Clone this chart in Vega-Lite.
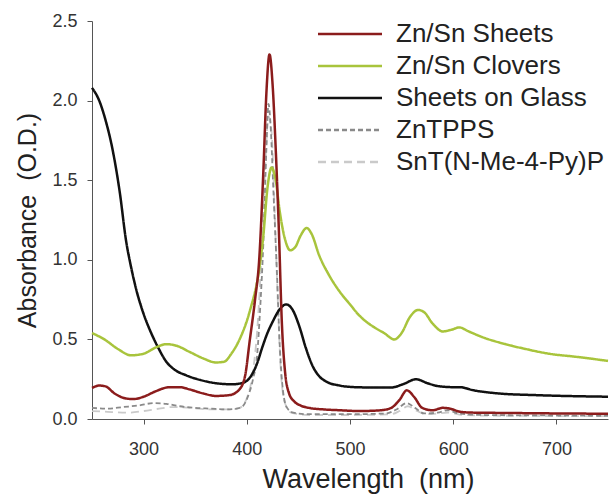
{
  "$schema": "https://vega.github.io/schema/vega-lite/v6.json",
  "width": 516,
  "height": 398,
  "autosize": {"type": "none"},
  "padding": {"left": 92, "top": 21, "right": 6, "bottom": 77},
  "background": "white",
  "config": {"view": {"stroke": null}, "font": "Liberation Sans"},
  "datasets": {
    "S": [[250,0.195],[257,0.21],[263,0.205],[272,0.16],[282,0.13],[290,0.125],[300,0.14],[312,0.175],[325,0.2],[335,0.2],[345,0.185],[358,0.16],[370,0.145],[383,0.15],[392,0.18],[398,0.26],[403,0.5],[408,0.75],[412,1.0],[416,1.55],[419,2.05],[422,2.29],[425,2.1],[428,1.7],[431,1.2],[434,0.6],[437,0.3],[441,0.16],[446,0.11],[452,0.085],[460,0.07],[475,0.06],[490,0.055],[510,0.05],[530,0.055],[540,0.07],[548,0.12],[555,0.18],[562,0.14],[570,0.07],[580,0.055],[590,0.07],[597,0.065],[607,0.045],[620,0.04],[650,0.038],[700,0.035],[750,0.033]],
    "C": [[250,0.54],[262,0.5],[275,0.44],[288,0.4],[300,0.41],[312,0.45],[322,0.47],[332,0.46],[345,0.42],[358,0.38],[370,0.355],[378,0.36],[385,0.41],[393,0.5],[403,0.68],[412,0.94],[416,1.15],[420,1.45],[424,1.58],[428,1.5],[432,1.3],[437,1.13],[442,1.06],[447,1.08],[452,1.15],[458,1.2],[463,1.16],[470,1.03],[480,0.9],[490,0.8],[500,0.72],[509,0.65],[518,0.6],[525,0.57],[533,0.54],[543,0.5],[550,0.54],[558,0.64],[566,0.685],[572,0.67],[580,0.6],[590,0.55],[598,0.56],[606,0.575],[615,0.55],[630,0.51],[645,0.48],[670,0.44],[693,0.41],[720,0.39],[750,0.365]],
    "G": [[250,2.08],[257,2.0],[263,1.88],[270,1.69],[277,1.42],[283,1.12],[288,0.95],[293,0.81],[300,0.66],[306,0.56],[314,0.45],[322,0.36],[330,0.31],[341,0.275],[355,0.245],[370,0.225],[386,0.218],[395,0.225],[403,0.26],[410,0.35],[415,0.45],[420,0.54],[425,0.61],[432,0.69],[438,0.72],[444,0.69],[451,0.58],[457,0.45],[464,0.33],[470,0.27],[477,0.235],[490,0.21],[505,0.2],[520,0.198],[540,0.198],[552,0.22],[564,0.25],[575,0.225],[587,0.205],[600,0.2],[606,0.2],[620,0.18],[645,0.16],[680,0.15],[750,0.14]],
    "T": [[250,0.07],[265,0.065],[280,0.075],[295,0.085],[310,0.1],[322,0.095],[335,0.08],[350,0.07],[365,0.065],[380,0.06],[390,0.065],[396,0.08],[401,0.14],[406,0.25],[410,0.4],[413,0.7],[416,1.1],[419,1.7],[421,1.98],[423,1.85],[426,1.4],[429,0.95],[432,0.45],[435,0.18],[439,0.07],[445,0.04],[460,0.03],[500,0.03],[535,0.035],[545,0.06],[555,0.1],[563,0.07],[572,0.035],[585,0.04],[595,0.055],[605,0.035],[630,0.025],[700,0.022],[750,0.02]],
    "P": [[250,0.05],[265,0.045],[286,0.04],[300,0.05],[315,0.065],[328,0.075],[345,0.07],[365,0.06],[383,0.06],[393,0.07],[400,0.13],[406,0.3],[410,0.55],[414,1.0],[418,1.6],[421,1.9],[424,1.8],[427,1.3],[430,0.75],[433,0.3],[437,0.1],[443,0.04],[460,0.025],[500,0.025],[540,0.03],[548,0.05],[556,0.08],[565,0.05],[575,0.03],[595,0.04],[610,0.025],[650,0.02],[750,0.018]]
  },
  "layer": [
    {"data": {"name": "P"}, "transform": [{"calculate": "'SnT(N-Me-4-Py)P'", "as": "series"}, {"calculate": "datum[0]", "as": "wl"}, {"calculate": "datum[1]", "as": "abs"}], "mark": {"type": "line", "interpolate": "monotone", "strokeWidth": 1.8}, "encoding": {"x": {"field": "wl", "type": "quantitative"}, "y": {"field": "abs", "type": "quantitative"}, "color": {"field": "series", "type": "nominal"}, "strokeDash": {"field": "series", "type": "nominal"}}},
    {"data": {"name": "T"}, "transform": [{"calculate": "'ZnTPPS'", "as": "series"}, {"calculate": "datum[0]", "as": "wl"}, {"calculate": "datum[1]", "as": "abs"}], "mark": {"type": "line", "interpolate": "monotone", "strokeWidth": 1.8}, "encoding": {"x": {"field": "wl", "type": "quantitative"}, "y": {"field": "abs", "type": "quantitative"}, "color": {"field": "series", "type": "nominal"}, "strokeDash": {"field": "series", "type": "nominal"}}},
    {"data": {"name": "G"}, "transform": [{"calculate": "'Sheets on Glass'", "as": "series"}, {"calculate": "datum[0]", "as": "wl"}, {"calculate": "datum[1]", "as": "abs"}], "mark": {"type": "line", "interpolate": "monotone", "strokeWidth": 2.5}, "encoding": {"x": {"field": "wl", "type": "quantitative"}, "y": {"field": "abs", "type": "quantitative"}, "color": {"field": "series", "type": "nominal"}, "strokeDash": {"field": "series", "type": "nominal"}}},
    {"data": {"name": "C"}, "transform": [{"calculate": "'Zn/Sn Clovers'", "as": "series"}, {"calculate": "datum[0]", "as": "wl"}, {"calculate": "datum[1]", "as": "abs"}], "mark": {"type": "line", "interpolate": "monotone", "strokeWidth": 2.5}, "encoding": {"x": {"field": "wl", "type": "quantitative"}, "y": {"field": "abs", "type": "quantitative"}, "color": {"field": "series", "type": "nominal"}, "strokeDash": {"field": "series", "type": "nominal"}}},
    {"data": {"name": "S"}, "transform": [{"calculate": "'Zn/Sn Sheets'", "as": "series"}, {"calculate": "datum[0]", "as": "wl"}, {"calculate": "datum[1]", "as": "abs"}], "mark": {"type": "line", "interpolate": "monotone", "strokeWidth": 2.5}, "encoding": {"x": {"field": "wl", "type": "quantitative"}, "y": {"field": "abs", "type": "quantitative"}, "color": {"field": "series", "type": "nominal"}, "strokeDash": {"field": "series", "type": "nominal"}}}
  ],
  "resolve": {"scale": {"color": "shared", "strokeDash": "shared"}},
  "encoding": {
    "x": {"field": "wl", "type": "quantitative", "scale": {"domain": [250, 750], "nice": false, "zero": false},
      "axis": {"title": "Wavelength \u00a0(nm)", "values": [300,400,500,600,700], "grid": false, "domainColor": "#555", "tickColor": "#555", "tickSize": 5, "labelPadding": 16, "labelFontSize": 18, "labelColor": "#333", "titleFontSize": 27, "titleFontWeight": "normal", "titleColor": "#222", "titleX": 276, "titleY": 68, "titleBaseline": "alphabetic"}},
    "y": {"field": "abs", "type": "quantitative", "scale": {"domain": [0, 2.5], "nice": false},
      "axis": {"title": "Absorbance \u00a0(O.D.)", "values": [0,0.5,1,1.5,2,2.5], "format": ".1f", "grid": false, "domainColor": "#555", "tickColor": "#555", "tickSize": 5, "labelPadding": 10, "labelFontSize": 18, "labelColor": "#333", "titleFontSize": 25, "titleFontWeight": "normal", "titleColor": "#222", "titleX": -57, "titleY": 199, "titleBaseline": "alphabetic", "titleAngle": -90}},
    "color": {"field": "series", "type": "nominal",
      "scale": {"domain": ["Zn/Sn Sheets", "Zn/Sn Clovers", "Sheets on Glass", "ZnTPPS", "SnT(N-Me-4-Py)P"], "range": ["#8B1C1C", "#A8C43C", "#111111", "#8A8A8A", "#CACACA"]},
      "legend": {"title": null, "orient": "none", "legendX": 245, "legendY": 0, "symbolType": "M-4,0H4", "symbolSize": 256, "symbolStrokeWidth": 2.5, "labelFontSize": 26, "labelColor": "#222", "labelOffset": 33, "rowPadding": 6, "labelLimit": 400}},
    "strokeDash": {"field": "series", "type": "nominal",
      "scale": {"domain": ["Zn/Sn Sheets", "Zn/Sn Clovers", "Sheets on Glass", "ZnTPPS", "SnT(N-Me-4-Py)P"], "range": [[1,0],[1,0],[1,0],[5,3],[8,5]]},
      "legend": {"title": null, "orient": "none", "legendX": 245, "legendY": 0, "symbolType": "M-4,0H4", "symbolSize": 256, "symbolStrokeWidth": 2.5, "labelFontSize": 26, "labelColor": "#222", "labelOffset": 33, "rowPadding": 6, "labelLimit": 400}}
  }
}
